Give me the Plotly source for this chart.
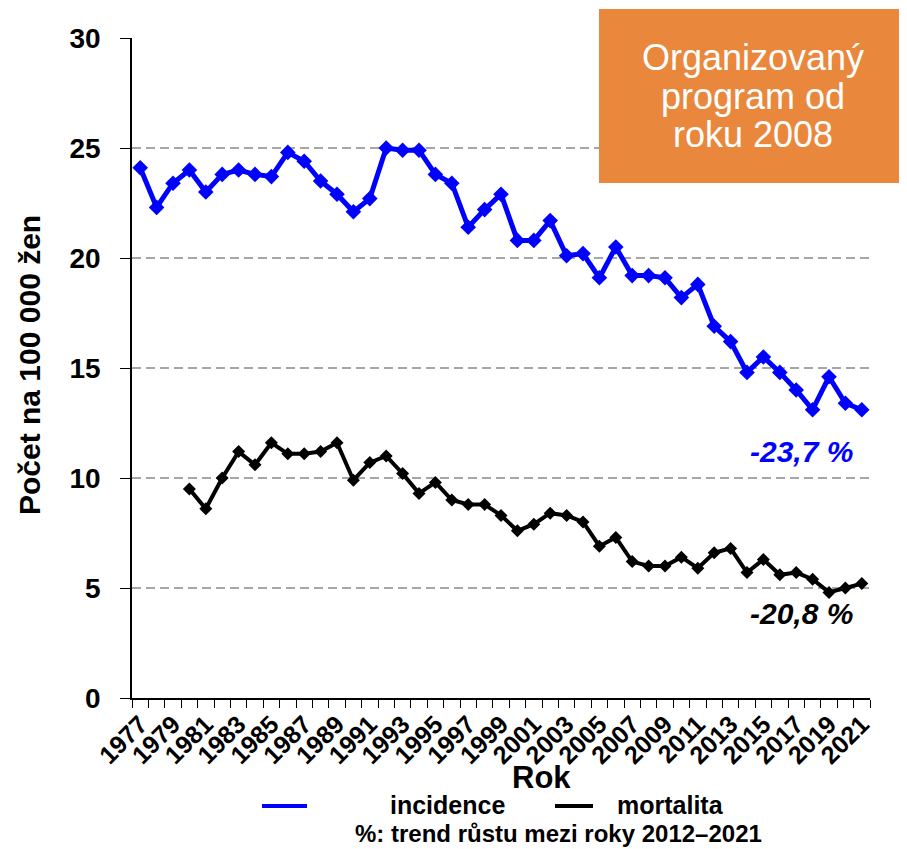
import plotly.graph_objects as go

years = list(range(1977, 2022))
incidence = [24.1, 22.3, 23.4, 24.0, 23.0, 23.8, 24.0, 23.8, 23.7, 24.8,
             24.4, 23.5, 22.9, 22.1, 22.7, 25.0, 24.9, 24.9, 23.8, 23.4,
             21.4, 22.2, 22.9, 20.8, 20.8, 21.7, 20.1, 20.2, 19.1, 20.5,
             19.2, 19.2, 19.1, 18.2, 18.8, 16.9, 16.2, 14.8, 15.5, 14.8,
             14.0, 13.1, 14.6, 13.4, 13.1]
mort_years = list(range(1980, 2022))
mortalita = [9.5, 8.6, 10.0, 11.2, 10.6, 11.6, 11.1, 11.1, 11.2, 11.6,
             9.9, 10.7, 11.0, 10.2, 9.3, 9.8, 9.0, 8.8, 8.8, 8.3,
             7.6, 7.9, 8.4, 8.3, 8.0, 6.9, 7.3, 6.2, 6.0, 6.0,
             6.4, 5.9, 6.6, 6.8, 5.7, 6.3, 5.6, 5.7, 5.4, 4.8,
             5.0, 5.2]
tick_years = list(range(1977, 2022, 2))
y_ticks = [0, 5, 10, 15, 20, 25, 30]

# page body has an 8px margin; screen-coordinate layout below
OFF = 8
W, H = 907 - OFF, 849 - OFF
L, R, T, B = 132, 870, 38, 698   # plot area in screen px

def px(x):
    return (x - L) / (R - L)

def py(y):
    return (B - y) / (B - T)

FONT = "Liberation Sans, Arial, sans-serif"

fig = go.Figure()
fig.add_trace(go.Scatter(
    x=years, y=incidence, mode="lines+markers", name="incidence",
    line=dict(color="#0000FF", width=5),
    marker=dict(symbol="diamond", size=12, color="#0000FF"),
))
fig.add_trace(go.Scatter(
    x=mort_years, y=mortalita, mode="lines+markers", name="mortalita",
    line=dict(color="#000000", width=4),
    marker=dict(symbol="diamond", size=10, color="#000000"),
))

fig.update_layout(
    width=W, height=H,
    margin=dict(l=L - OFF, r=W + OFF - R, t=T - OFF, b=H + OFF - B, pad=0),
    plot_bgcolor="white", paper_bgcolor="white",
    showlegend=False,
    font=dict(family=FONT, color="black"),
)
fig.update_xaxes(
    range=[1976.5, 2021.5],
    tickmode="array", tickvals=tick_years, ticktext=[str(y) for y in tick_years],
    ticks="", tickangle=-45,
    tickfont=dict(size=25, family=FONT, weight="bold", color="black"),
    showgrid=False, zeroline=False,
    showline=True, linecolor="black", linewidth=1.5,
    minor=dict(tickmode="array", tickvals=[1976.5 + i for i in range(46)],
               ticks="outside", ticklen=8, tickwidth=1.2, tickcolor="black",
               showgrid=False),
)
fig.update_yaxes(
    range=[0, 30], tickmode="array", tickvals=y_ticks,
    ticks="outside", ticklen=10, tickwidth=1.2, tickcolor="black",
    ticklabelstandoff=14,
    tickfont=dict(size=28, family=FONT, weight="bold", color="black"),
    showgrid=True, gridcolor="#A6A6A6", gridwidth=2, griddash="9px,5px",
    zeroline=False, showline=True, linecolor="black", linewidth=1.5,
)

def note(x, y, text, size, color="black", angle=0):
    fig.add_annotation(xref="paper", yref="paper", x=px(x), y=py(y),
                       text=text, showarrow=False, xanchor="center", yanchor="middle",
                       textangle=angle, borderpad=0,
                       font=dict(size=size, color=color, family=FONT))

# orange box
fig.add_shape(type="rect", xref="paper", yref="paper",
              x0=px(599), x1=px(912), y0=py(183), y1=py(9),
              fillcolor="#E9873C", line=dict(width=0), layer="above")
box_lines = ["Organizovaný", "program od", "roku 2008"]
box_y = [57, 96, 134]
for txt, yy in zip(box_lines, box_y):
    note(753, yy, txt, 36, "white")

# trend annotations
note(801, 452, "<b><i>-23,7 %</i></b>", 30, "#0000FF")
note(801, 613, "<b><i>-20,8 %</i></b>", 30, "black")

# axis titles
note(29, 365, "<b>Počet na 100 000 žen</b>", 30, "black", -90)
note(541, 778, "<b>Rok</b>", 31)

# legend
fig.add_shape(type="line", xref="paper", yref="paper",
              x0=px(262), x1=px(307), y0=py(806), y1=py(806),
              line=dict(color="#0000FF", width=4))
note(447, 805, "<b>incidence</b>", 25)
fig.add_shape(type="line", xref="paper", yref="paper",
              x0=px(555), x1=px(593), y0=py(806), y1=py(806),
              line=dict(color="black", width=4))
note(670, 805, "<b>mortalita</b>", 25)
note(558, 833, "<b>%: trend růstu mezi roky 2012–2021</b>", 24)

fig.write_html("out.html")
